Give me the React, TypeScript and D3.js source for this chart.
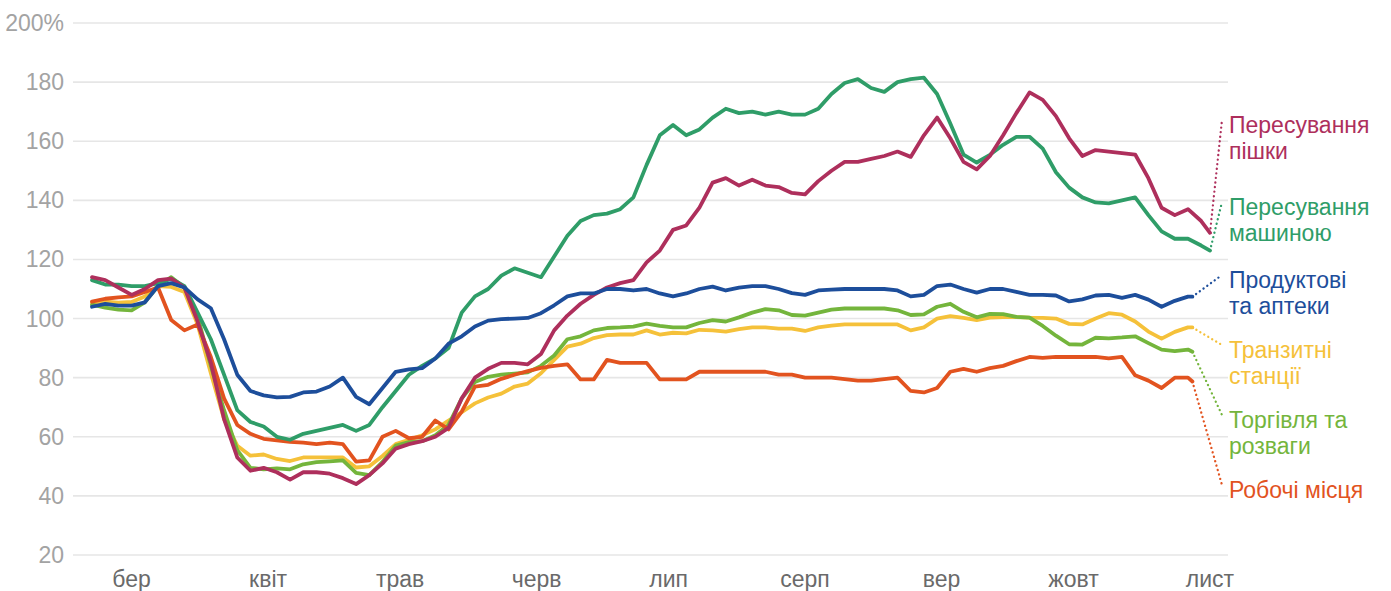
import { line, scaleLinear, scaleTime, timeDay, timeMonth } from 'd3'

// ---- data (mobility, % of baseline), one value every 3 days from 21 Feb 2020, last value = series end date
const walking = [
  114, 113, 110.5, 108, 110, 113, 113.5, 110.5, 99, 85,
  66, 53, 48.5, 49.5, 48, 45.5, 48, 48, 47.5, 46,
  44, 47, 51, 56, 57.5, 58.5, 60, 63, 73, 80,
  83, 85, 85, 84.5, 88, 96, 101, 105, 108, 110.5,
  112, 113, 119, 123, 130, 131.5, 137.5, 146, 147.5, 145,
  147, 145, 144.5, 142.5, 142, 146.5, 150, 153, 153, 154,
  155, 156.5, 154.7, 162, 168, 161, 153, 150.5, 155, 162,
  169.5, 176.5, 174, 168.5, 161, 155, 157, 156.5, 156, 155.5,
  147.5, 137.5, 135, 137, 133,
  129,
]
const driving = [
  113, 111.5, 111.5, 111, 111, 112, 113.5, 111, 102, 93,
  81, 69, 65, 63.5, 60, 59, 61, 62, 63, 64,
  62, 64, 70, 75.5, 81, 84, 86.5, 90, 102, 107.5,
  110, 114.5, 117, 115.5, 114, 121, 128, 133, 135, 135.5,
  137, 141, 152, 162, 165.5, 162, 164, 168, 171, 169.5,
  170, 169, 170, 169, 169, 171, 176, 179.7, 181, 178,
  176.7, 180, 181, 181.5, 176, 166, 155.5, 152.8, 155.4, 158.8,
  161.5, 161.5, 157.5, 149.5, 144.3, 141, 139.3, 139, 140, 141,
  135, 129.5, 127, 127, 124.7,
  123,
]
const grocery = [
  104, 105, 104.4, 104.4, 105.5, 111, 112, 110.5, 106.5, 103.5,
  93, 81, 75.5, 74, 73.3, 73.5, 75, 75.3, 77, 80,
  73.5, 71, 76.5, 82, 82.8, 83.2, 86.5, 91.5, 94, 97.3,
  99.3, 99.8, 100, 100.2, 101.8, 104.5, 107.5, 108.5, 108.5, 110,
  110, 109.5, 110, 108.5, 107.5, 108.5, 110, 110.8, 109.5, 110.5,
  111, 111, 110, 108.6, 108, 109.5, 109.8, 110, 110, 110,
  110, 109.5, 107.5, 108, 111, 111.5, 110, 108.8, 110, 110,
  109, 108, 108, 107.8, 105.8, 106.5, 107.8, 108, 107, 108,
  106.4, 104, 106, 107.4,
  107.4,
]
const transit = [
  105.4, 105.7, 105.4, 105.6, 107.5, 111, 110.7, 109, 98, 81.5,
  66, 57, 53.6, 54, 52.5, 51.8, 53, 53, 53, 53,
  49.6, 50, 53.5, 57.5, 59, 60.5, 62.5, 65.5, 68.3, 71.3,
  73.3, 74.6, 77, 78, 81.5, 86, 90.5, 91.5, 93.4, 94.4,
  94.6, 94.6, 96, 94.6, 95.2, 95, 96.2, 96, 95.6, 96.4,
  97, 97, 96.6, 96.6, 95.8, 97, 97.6, 98, 98, 98,
  98, 98, 96, 97, 100, 100.8, 100.2, 99.5, 100.3, 100.5,
  100.5, 100.3, 100.2, 100, 98.2, 98, 100, 101.8, 101.3, 99,
  95.6, 93.2, 95.5, 97,
  97,
]
const retail = [
  104.7, 103.7, 103, 102.8, 105.5, 111, 114, 110.5, 100.7, 84,
  69, 55.5, 49.5, 49, 49.3, 49, 50.7, 51.4, 51.7, 52,
  47.8, 47, 51.5, 57, 58.2, 58.5, 60.5, 64, 73, 78.5,
  80.3, 81, 81.4, 81.8, 84, 87.5, 93, 94, 96, 96.8,
  97, 97.3, 98.3, 97.5, 97, 97, 98.5, 99.5, 99, 100.4,
  102, 103.2, 102.8, 101.2, 101, 102, 103, 103.4, 103.4, 103.4,
  103.4, 102.8, 101.2, 101.4, 104, 105, 102.3, 100.4, 101.6, 101.5,
  100.6, 100.3, 97.5, 94.2, 91.3, 91.2, 93.5, 93.3, 93.6, 94,
  91.7, 89.5, 89, 89.5,
  88.8,
]
const workplaces = [
  105.7, 106.7, 107.2, 107.5, 109, 110.5, 99.5, 96, 98, 87,
  73, 64, 61, 59.3, 58.8, 58.3, 58, 57.5, 58, 57.5,
  51.6, 52, 60, 62, 59.5, 60, 65.5, 62.5, 68.5, 77,
  77.6, 79.6, 81, 82.2, 83.3, 84, 84.5, 79.4, 79.4, 86,
  85, 85, 85, 79.4, 79.4, 79.4, 82, 82, 82, 82,
  82, 82, 81, 81, 80, 80, 80, 79.5, 79, 79,
  79.5, 80, 75.5, 75, 76.5, 82, 83, 82, 83.2, 84,
  85.6, 87, 86.7, 87, 87, 87, 87, 86.5, 87, 80.8,
  79, 76.5, 80, 80,
  78.7,
]

const monthLabels = ['бер', 'квіт', 'трав', 'черв', 'лип', 'серп', 'вер', 'жовт', 'лист']

const startDate = new Date(2020, 1, 21)
const appleEnd = new Date(2020, 10, 1)
const googleEnd = new Date(2020, 9, 28)
const STEP = 3

const series = [
  { key: 'transit', values: transit, end: googleEnd, color: '#f5c13a', label: ['Транзитні', 'станції'], labelY: 358 },
  { key: 'retail', values: retail, end: googleEnd, color: '#74b53c', label: ['Торгівля та', 'розваги'], labelY: 428 },
  { key: 'workplaces', values: workplaces, end: googleEnd, color: '#e2531f', label: ['Робочі місця'], labelY: 498 },
  { key: 'driving', values: driving, end: appleEnd, color: '#2f9d68', label: ['Пересування', 'машиною'], labelY: 215 },
  { key: 'walking', values: walking, end: appleEnd, color: '#ae2f5c', label: ['Пересування', 'пішки'], labelY: 133 },
  { key: 'grocery', values: grocery, end: googleEnd, color: '#1d4e9b', label: ['Продуктові', 'та аптеки'], labelY: 288 },
]

const font = '"Liberation Sans", Arial, sans-serif'

export default function App() {
  const W = 1391
  const H = 591
  const x = scaleTime().domain([startDate, appleEnd]).range([92, 1210])
  const y = scaleLinear().domain([20, 200]).range([555, 23])

  const pts = (values: number[], end: Date) =>
    values.map((v, i) => ({
      d: i === values.length - 1 ? end : timeDay.offset(startDate, i * STEP),
      v,
    }))

  const path = line<{ d: Date; v: number }>()
    .x((p) => x(p.d))
    .y((p) => y(p.v))

  const months = timeMonth.range(new Date(2020, 2, 1), new Date(2020, 10, 2))
  const yTicks = y.ticks(9)

  return (
    <svg
      width={W}
      height={H}
      style={{ position: 'absolute', left: 0, top: 0, background: '#fff' }}
      fontFamily={font}
    >
      {yTicks.map((t) => (
        <g key={t}>
          <line x1={73} x2={1228} y1={y(t)} y2={y(t)} stroke="#e6e6e6" strokeWidth={1.6} />
          <text x={64} y={y(t)} dy="0.35em" textAnchor="end" fontSize={23} fill="#a3a3a3">
            {t === 200 ? '200%' : t}
          </text>
        </g>
      ))}

      {months.map((m, i) => (
        <text key={i} x={x(m)} y={587} textAnchor="middle" fontSize={23} fill="#6a6a6a">
          {monthLabels[i]}
        </text>
      ))}

      {series.map((s) => {
        const p = pts(s.values, s.end)
        const last = p[p.length - 1]
        return (
          <g key={s.key}>
            <path
              d={path(p) ?? ''}
              fill="none"
              stroke={s.color}
              strokeWidth={3.8}
              strokeLinejoin="round"
              strokeLinecap="round"
            />
            <line
              x1={x(last.d)}
              y1={y(last.v)}
              x2={1222}
              y2={s.labelY - 13}
              stroke={s.color}
              strokeWidth={2.3}
              strokeDasharray="0.1 4.5"
              strokeLinecap="round"
            />
            <text x={1229} y={s.labelY} fontSize={23} fill={s.color}>
              {s.label.map((l, j) => (
                <tspan key={j} x={1229} dy={j === 0 ? 0 : 26}>
                  {l}
                </tspan>
              ))}
            </text>
          </g>
        )
      })}
    </svg>
  )
}
